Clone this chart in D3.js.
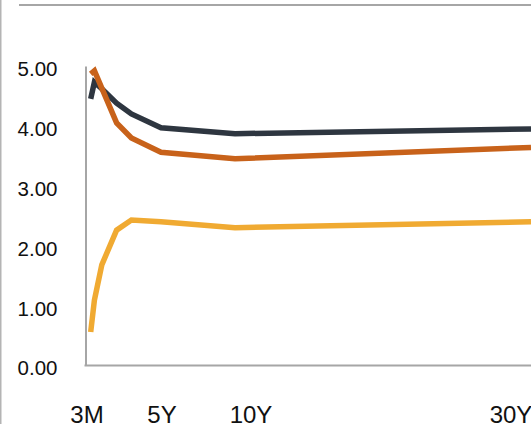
<!DOCTYPE html>
<html>
<head>
<meta charset="utf-8">
<script src="https://cdn.jsdelivr.net/npm/d3@7"></script>
<style>
  html, body { margin: 0; padding: 0; background: #fff; }
  svg { display: block; }
  text { font-family: "Liberation Sans", Arial, sans-serif; fill: #111; }
</style>
</head>
<body>
<svg id="chart" width="531" height="424"></svg>
<script>
// maturities in years
const maturities = [0.25, 0.5, 1, 2, 3, 5, 10, 30];
const seriesDark   = [4.45, 4.73, 4.62, 4.38, 4.20, 3.97, 3.87, 3.95];
const seriesOrange = [4.87, 4.92, 4.63, 4.05, 3.80, 3.56, 3.45, 3.64];
const seriesYellow = [0.56, 1.09, 1.68, 2.26, 2.43, 2.40, 2.30, 2.40];
const yTicks = [0, 1, 2, 3, 4, 5];
const xTickLabels = ["3M", "5Y", "10Y", "30Y"];
const xTickYears = [0, 5.07, 11.08, 28.65];

const series = [
  { values: seriesDark,   color: "#2e3640" },
  { values: seriesOrange, color: "#c8621a" },
  { values: seriesYellow, color: "#f0aa32" }
];

const svg = d3.select("#chart");
const x = d3.scaleLinear().domain([0, 30]).range([87, 531]);
const y = d3.scaleLinear().domain([0, 5]).range([365.5, 66]);

// frame
svg.append("line").attr("x1", 0.75).attr("x2", 0.75).attr("y1", 0).attr("y2", 424)
  .attr("stroke", "#b4b4b4").attr("stroke-width", 1.5);
svg.append("line").attr("x1", 19).attr("x2", 531).attr("y1", 5).attr("y2", 5)
  .attr("stroke", "#a6a6a6").attr("stroke-width", 2);

// y axis
const yAxis = d3.axisLeft(y).tickValues(yTicks).tickFormat(d3.format(".2f"))
  .tickSize(0).tickPadding(28);
const gy = svg.append("g").attr("transform", "translate(85.5,0)").call(yAxis);
gy.select(".domain").attr("stroke", "#a6a6a6").attr("stroke-width", 2);
gy.selectAll("text").attr("dy", "0.46em").style("font-size", "20.5px")
  .style("font-family", "'Liberation Sans', Arial, sans-serif").attr("fill", "#111");

// x axis line
svg.append("line").attr("x1", 84.5).attr("x2", 531).attr("y1", y(0)).attr("y2", y(0))
  .attr("stroke", "#a6a6a6").attr("stroke-width", 2);

// x labels
svg.append("g").selectAll("text").data(xTickLabels).join("text")
  .attr("x", (d, i) => x(xTickYears[i]))
  .attr("y", 422.5)
  .attr("text-anchor", "middle")
  .style("font-size", "24px")
  .text(d => d);

// lines
const line = d3.line().x((d, i) => x(maturities[i])).y(d => y(d));
svg.append("g").selectAll("path").data(series).join("path")
  .attr("d", d => line(d.values))
  .attr("fill", "none")
  .attr("stroke", d => d.color)
  .attr("stroke-width", 5.5)
  .attr("stroke-linejoin", "miter");
</script>
</body>
</html>
